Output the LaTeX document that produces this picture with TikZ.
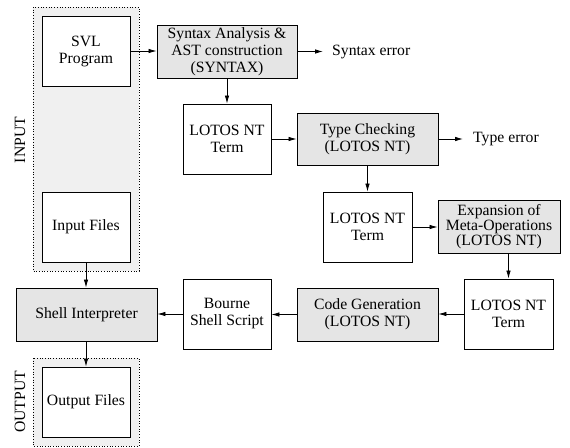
\documentclass[tikz,border=0pt]{standalone}
\usepackage{fontspec}
\setmainfont{Liberation Serif}
\usetikzlibrary{arrows.meta}
\definecolor{areafill}{gray}{0.94}
\definecolor{procfill}{gray}{0.90}
\tikzset{
  txt/.style={font=\fontsize{15.7}{17}\selectfont, align=center, inner sep=0pt},
  databox/.style={txt, draw, line width=0.9pt, fill=white, minimum width=88pt, minimum height=70pt},
  procbox/.style={txt, draw, line width=0.9pt, fill=procfill, minimum width=141pt, minimum height=53pt},
  area/.style={draw, dotted, line width=0.7pt, fill=areafill},
  flow/.style={-{Latex[length=8pt,width=4.5pt]}, line width=0.8pt},
}
\begin{document}
\begin{tikzpicture}[x=1pt, y=-1pt]
\useasboundingbox (0,0) rectangle (570,447);

% input and output areas
\draw[area] (33,7) rectangle (139,271);
\draw[area] (33,358) rectangle (139,446);
\node[txt, rotate=90] (inlab) at (20,140) {INPUT};
\node[txt, rotate=90] (outlab) at (20,402) {OUTPUT};

% boxes
\node[databox] (svl) at (86,51) {SVL\\Program};
\node[procbox, minimum width=140pt] (syn) at (227,51.5) {Syntax Analysis \&\\AST construction\\(SYNTAX)};
\node[databox] (t1) at (227,139) {LOTOS NT\\Term};
\node[procbox, minimum height=52pt] (tc) at (367.5,139) {Type Checking\\(LOTOS NT)};
\node[databox, minimum width=89pt] (t2) at (367.5,227) {LOTOS NT\\Term};
\node[procbox, minimum width=122pt, font=\fontsize{15.7}{15}\selectfont] (exp) at (499,226.5) {Expansion of\\Meta-Operations\\(LOTOS NT)};
\node[databox, minimum width=89pt] (t3) at (508.5,314) {LOTOS NT\\Term};
\node[procbox] (cg) at (367.5,314.5) {Code Generation\\(LOTOS NT)};
\node[databox] (bss) at (227,314) {Bourne\\Shell Script};
\node[procbox] (sh) at (86.5,314.5) {Shell Interpreter};
\node[databox] (inf) at (86,227) {Input Files};
\node[databox] (outf) at (86,402) {Output Files};

% error outputs
\node[txt, anchor=west] (serr) at (332,51.5) {Syntax error};
\node[txt, anchor=west] (terr) at (473,139) {Type error};
\coordinate (serrend) at (323,51.5);
\coordinate (terrend) at (463,139);

% connectors
\draw[flow] (svl.east) -- (svl.east -| syn.west);
\draw[flow] (syn.east) -- (serrend);
\draw[flow] (syn.south) -- (t1.north);
\draw[flow] (t1.east) -- (tc.west);
\draw[flow] (tc.east) -- (terrend);
\draw[flow] (tc.south) -- (t2.north);
\draw[flow] (t2.east) -- (t2.east -| exp.west);
\draw[flow] (exp.south -| t3.north) -- (t3.north);
\draw[flow] (t3.west) -- (t3.west -| cg.east);
\draw[flow] (cg.west) -- (cg.west -| bss.east);
\draw[flow] (bss.west) -- (bss.west -| sh.east);
\draw[flow] (inf.south) -- (inf.south |- sh.north);
\draw[flow] (sh.south -| outf.north) -- (outf.north);
\end{tikzpicture}
\end{document}
